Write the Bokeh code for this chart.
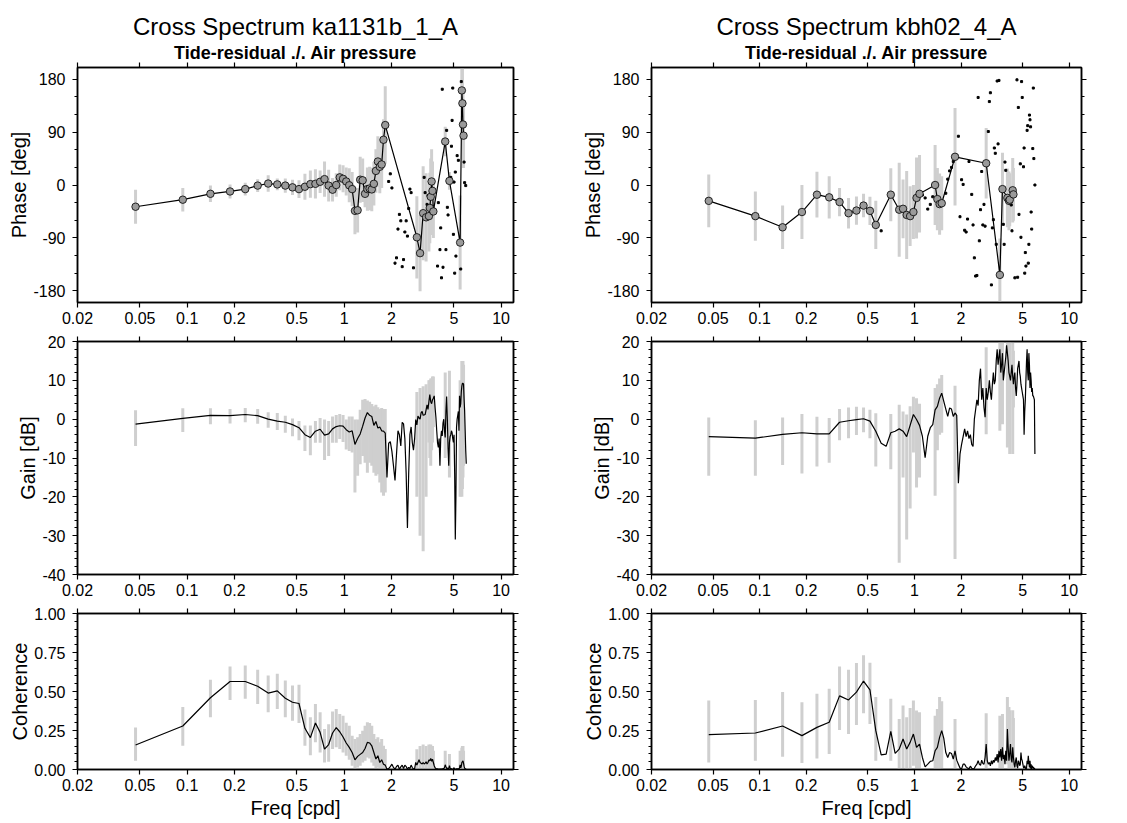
from bokeh.plotting import figure
from bokeh.layouts import column, row
from bokeh.models import (Range1d, FixedTicker, LogAxis, LinearAxis,
                          CustomJSTickFormatter, Title)
from bokeh.embed import file_html
from bokeh.resources import INLINE

FONT = "Liberation Sans"

# ---------------- data -----------------
FREQ_STEP = 0.046875          # cpd, spacing of the spectral estimates
BINS = list(range(1, 129))    # spectral bin index 1..128 (0.047 .. 6 cpd)

X_TICKS = [0.02, 0.05, 0.1, 0.2, 0.5, 1, 2, 5, 10]
PHASE_TICKS = [-180, -90, 0, 90, 180]
GAIN_TICKS = [-40, -30, -20, -10, 0, 10, 20]
COH_TICKS = [0.0, 0.25, 0.5, 0.75, 1.0]

TITLES = ["Cross Spectrum ka1131b_1_A", "Cross Spectrum kbh02_4_A"]
SUBTITLE = "Tide-residual ./. Air pressure"

# ---- station 1 : ka1131b_1_A ----
L_SIG = list(range(1, 40)) + [62, 65, 68, 71, 74, 75, 76, 77, 78, 79, 94, 100, 117, 120, 121, 122, 123]
L_PHASE = [-37, -25, -15, -11, -7, -1, 2.5, 1, -1, -4, -7, -3, 1.5, 2, 5.5, 10, -1, -8, 0, 13,
           10.5, 6, -0.5, -7, -44, -43, 9, 8, -15, -7, -6, -7.5, 2, 24, 40, 31, 35, 77, 102,
           -89, -116, -48, -55, -53, -39, -20, 6, -10, -45, 74, 7, -98, 161, 139, 103, 84]
L_PHASE_ERR = [29, 20, 14, 12, 11, 11, 14, 10, 12, 13, 15, 22, 23, 25, 19, 30, 27, 20, 20, 22,
               23, 24, 29, 29, 40, 38, 39, 37, 23, 37, 37, 37, 37, 37, 43, 45, 40, 35, 66,
               70, 65, 80, 75, 60, 60, 65, 55, 50, 45, 25, 15, 80, 60, 60, 60, 55]
L_DOT_BINS = [41, 42, 43, 45, 46, 47, 48, 49, 50, 51, 52, 53, 54, 55, 56, 57, 59, 69, 70, 72, 73,
              84, 85, 87, 88, 89, 90, 91, 95, 96, 97, 98, 102, 103, 104, 105, 106, 107, 108, 109,
              110, 112, 114, 118, 119, 124, 125, 127]
L_DOT_PHASE = [6, 19, -5, -133, -124, -75, -50, -61, -139, -127, -80, -61, -87, -40, -7, -13, -141,
               13, -13, -33, -18, -138, -30, -110, -73, -158, 163, -140, -110, 93, -38, -51, 13, 66,
               110, 165, -84, 5, -150, 22, -121, 50, 42, -143, 176, 39, 4, -1]
L_GAIN = [-1.3, 0.2, 1.0, 0.9, 1.2, 0.9, 0.0, -0.5, -0.8, -1.4,
          -2.2, -4.0, -4.7, -3.1, -2.6, -4.1, -3.8, -2.5, -1.9, -1.7,
          -1.8, -2.7, -3.3, -3.0, -6.5, -5.0, -3.8, -1.8, 0.3, 1.7,
          1.0, 0.7, -1.6, -0.6, -2.3, -2.0, -3.0, -3.1, -3.6, -15.0,
          -6.2, -5.8, -8.3, -12.0, -15.8, -9.0, -3.0, -4.0, -6.9, -0.8,
          -1.2, -5.0, -14.0, -28.0, -14.0, -4.0, -2.0, -6.0, -8.0, -5.0,
          -0.1, -1.5, 0.8, 0.3, 0.0, 1.6, 2.0, 1.0, 1.1, 1.2,
          2.4, 3.7, 2.5, 4.5, 6.3, 4.5, 4.0, 5.0, 5.4, 6.0,
          3.0, 0.5, -3.0, -6.1, -7.3, -5.0, -12.0, -5.0, -3.0, -4.3,
          -1.0, 0.0, -3.0, -4.7, 2.0, 5.8, 0.0, -7.6, -12.0, -6.0,
          -4.5, -4.0, -3.0, -3.5, -5.0, -6.0, -4.0, -14.0, -31.0, -20.0,
          -2.0, 0.0, 1.0, 2.0, -3.0, 6.0, 3.0, 4.0, 7.0, 8.5,
          9.2, 9.2, 9.0, 5.0, 2.0, -3.0, -8.0, -11.5]
L_GAIN_HI = [2.3, 2.8, 2.8, 2.6, 2.9, 2.6, 1.8, 1.6, 0.9, 0.2, -0.5, -1.6, -1.6, -0.5, 0.3, -0.1,
             -0.5, 0.7, 1.1, 1.3, 1.1, -0.1, 0.7, 0.7, -0.1, -0.1, 2.4, 5.0, 5.2, 4.8, 4.5, 3.9,
             3.3, 3.7, 3.1, 2.6, 2.9, 2.6, 2.6,
             7, 8, 8.5, 9, 10, 10, 10.5, 10.5, 11, 11, 12, 12.5, 10, 15, 15, 15, 14]
L_GAIN_LO = [-6.9, -3.3, -1.3, -1.1, -0.8, -1.2, -2.2, -2.8, -3.5, -4.4, -5.4, -8.2, -9.3, -6.1,
             -6.1, -10.5, -9.5, -6.1, -6.1, -5.1, -5.9, -7.8, -8.2, -8.6, -18.9, -14.6, -11.6,
             -9.5, -11.2, -13.8, -11.2, -12.0, -13.8, -14.6, -14.2, -16.3, -18.9, -19.7, -18.9,
             -20, -30, -34, -20, -6, -10, -12, -8, -6, -2, -10, -15, -20, -20, -18, -15, -12]
L_COH = [0.157, 0.279, 0.46, 0.564, 0.564, 0.534, 0.49, 0.504, 0.457, 0.431,
         0.423, 0.264, 0.204, 0.298, 0.238, 0.131, 0.16, 0.234, 0.268, 0.242,
         0.208, 0.17, 0.142, 0.109, 0.062, 0.084, 0.097, 0.109, 0.135, 0.174,
         0.17, 0.152, 0.109, 0.067, 0.088, 0.045, 0.062, 0.034, 0.028, 0.002,
         0.006, 0.019, 0.034, 0.013, 0.002, 0.019, 0.028, 0.002, 0.017, 0.028,
         0.006, 0.028, 0.019, 0.002, 0.013, 0.006, 0.028, 0.013, 0.002, 0.006,
         0.045, 0.028, 0.045, 0.062, 0.045, 0.04, 0.036, 0.045, 0.036, 0.04,
         0.049, 0.036, 0.045, 0.062, 0.055, 0.071, 0.053, 0.066, 0.045, 0.024,
         0.011, 0.006, 0.002, 0.004, 0.002, 0.001, 0.003, 0.002, 0.001, 0.004,
         0.002, 0.006, 0.012, 0.03, 0.018, 0.008, 0.003, 0.01, 0.002, 0.025,
         0.01, 0.003, 0.006, 0.002, 0.001, 0.004, 0.012, 0.003, 0.001, 0.002,
         0.004, 0.002, 0.006, 0.003, 0.001, 0.012, 0.03, 0.01, 0.02, 0.045,
         0.05, 0.055, 0.04, 0.02, 0.01, 0.004, 0.002, 0.001]
L_COH_HI = [0.27, 0.40, 0.575, 0.661, 0.667, 0.64, 0.603, 0.614, 0.571, 0.539, 0.543, 0.384,
            0.335, 0.42, 0.367, 0.26, 0.29, 0.371, 0.388, 0.356, 0.345, 0.30, 0.281, 0.217,
            0.195, 0.206, 0.227, 0.249, 0.281, 0.303, 0.298, 0.281, 0.227, 0.195, 0.206, 0.174,
            0.195, 0.152, 0.131,
            0.13, 0.15, 0.16, 0.15, 0.16, 0.15, 0.16, 0.14, 0.15, 0.12, 0.12, 0.10, 0.12, 0.14,
            0.15, 0.15, 0.12]
L_COH_LO = [0.056, 0.152, 0.335, 0.446, 0.453, 0.42, 0.367, 0.388, 0.335, 0.313, 0.298, 0.152,
            0.092, 0.174, 0.109, 0.045, 0.05, 0.131, 0.142, 0.131, 0.109, 0.088, 0.062, 0.024,
            0.0, 0.013, 0.024, 0.045, 0.056, 0.077, 0.071, 0.045, 0.024, 0.006, 0.013, 0.0,
            0.0, 0.0, 0.0,
            0, 0, 0, 0, 0, 0, 0, 0, 0, 0, 0, 0, 0, 0, 0, 0, 0]

# ---- station 2 : kbh02_4_A ----
R_SIG = [1, 2, 3, 4, 5, 6, 7, 8, 9, 10, 11, 12, 15, 17, 18, 19, 20, 21, 22, 23, 29, 30, 31, 32,
         39, 62, 76, 79, 85, 87, 88, 92, 93]
R_PHASE = [-27, -53, -72, -46, -16.5, -21, -29, -48, -43.5, -35, -44, -68, -16.5, -42, -40.5,
           -51, -53, -46, -22, -15, 0, -24, -32.5, -31, 48, 37, -153, -7, -22, -27, -25, -9, -16]
R_PHASE_ERR = [45, 42, 37, 46, 39, 36, 24, 26, 24, 20, 24, 41, 45, 80, 50, 75, 51, 46, 69, 66,
               68, 53, 52, 46, 83, 60, 62, 62, 50, 50, 45, 55, 45]
R_DOT_BINS = [13, 24, 25, 26, 27, 28, 34, 35, 36, 37, 38, 41, 42, 43, 44, 45, 46, 47, 48, 50,
              51, 52, 53, 54, 55, 56, 57, 58, 59, 60, 61, 64, 65, 66, 67, 68, 69, 70, 71, 72,
              73, 74, 75, 80, 81, 82, 83, 90, 91, 95, 98, 99, 100, 101, 103, 104, 105, 106,
              108, 109, 110, 111, 112, 114, 115, 116, 117, 118, 119, 120, 121, 122, 124, 125,
              126, 128]
R_DOT_PHASE = [-78, -17, -22, -41, -33, -20, -14, 10, 24, 30, 40, 83, -54, 9, 1, -77, -80, -58,
               40, -16, -68, -124, -155, -154, 149, -95, -42, 23, -68, -33, -70, 91, 142, 157,
               -170, -73, -59, 63, 54, -101, 177, 70, 178, -67, -101, 39, 25, -34, -78, -158,
               179, -157, 132, -50, 36, -89, 176, 149, 31, 63, -150, -115, -138, 93, 101, -133,
               -101, 119, 111, 99, -46, -75, 62, 165, 45, 0]
R_GAIN = [-4.5, -4.9, -3.9, -3.5, -3.8, -3.8, -0.8, -0.4, -0.1, 0.1,
          -0.5, -3.1, -6.2, -7.0, -3.5, -3.1, -2.5, -3.1, -4.5, -1.6,
          1.2, -0.1, -1.6, -4.4, -9.9, -4.4, -2.2, -1.4, 2.4, 3.3,
          5.4, 6.7, 4.6, 2.6, 0.7, 2.9, 2.6, 0.7, 1.6, 1.0,
          -16.5, -9.0, -6.5, -4.5, -2.5, -4.5, -3.0, -5.0, -4.0, -6.5,
          -7.0, 0.0, 2.5, 5.0, 3.5, 10.0, 13.0, 5.0, 8.0, 3.0,
          0.5, 8.0, 5.0, 7.0, 10.0, 7.0, 5.0, 9.0, 12.0, 9.0,
          10.0, 15.0, 18.0, 14.0, 16.0, 18.0, 12.0, 14.0, 17.0, 10.0,
          12.0, 14.0, 16.0, 19.0, 17.0, 15.0, 12.0, 11.0, 10.0, 12.0,
          14.0, 11.0, 9.0, 11.0, 12.0, 8.0, 6.0, 9.0, 13.0, 14.0,
          15.0, 12.0, 11.0, 9.0, 8.0, 7.0, 6.0, 5.0, -4.0, 2.0,
          5.0, 10.0, 15.0, 18.0, 12.0, 10.0, 17.0, 14.0, 8.0, 12.0,
          10.0, 7.0, 8.0, 6.0, 6.0, 5.5, 5.0, -9.0]
R_GAIN_HI = [0.4, -0.3, 0.4, 1.3, 0.6, 0.3, 2.6, 3.0, 3.2, 3.0, 2.4, 1.5, 1.3, 3.7, 2.0, 1.2,
             3.3, 5.8, 5.4, 4.0, 8.0, 9.0, 10.5, 11.4, 8.6, 18.5, 20.5, 20.5, 20.5, 20.5, 20.5,
             19.7, 17.6]
R_GAIN_LO = [-14.6, -14.6, -11.8, -14.0, -12.2, -11.2, -5.4, -4.9, -4.1, -3.4, -4.9, -12.2,
             -12.9, -37.0, -15.0, -31.0, -23.0, -8.6, -17.6, -15.0, -19.7, -8.0, -4.0, -3.5,
             -36.0, -3.9, -3.0, -1.3, -7.3, -6.4, -9.0, -9.0, 3.0]
R_COH = [0.223, 0.234, 0.279, 0.217, 0.27, 0.303, 0.472, 0.446, 0.496, 0.567,
         0.511, 0.249, 0.094, 0.099, 0.245, 0.103, 0.131, 0.195, 0.131, 0.174,
         0.227, 0.142, 0.163, 0.077, 0.017, 0.034, 0.052, 0.056, 0.12, 0.142,
         0.206, 0.249, 0.2, 0.109, 0.077, 0.109, 0.103, 0.067, 0.12, 0.06,
         0.034, 0.009, 0.004, 0.034, 0.034, 0.017, 0.009, 0.004, 0.021, 0.009,
         0.0, 0.009, 0.024, 0.034, 0.056, 0.034, 0.026, 0.06, 0.039, 0.034,
         0.077, 0.163, 0.056, 0.034, 0.045, 0.024, 0.056, 0.034, 0.06, 0.045,
         0.077, 0.056, 0.099, 0.045, 0.12, 0.077, 0.131, 0.056, 0.142, 0.067,
         0.094, 0.034, 0.12, 0.056, 0.26, 0.142, 0.056, 0.099, 0.163, 0.067,
         0.045, 0.142, 0.077, 0.034, 0.013, 0.056, 0.077, 0.024, 0.009, 0.056,
         0.045, 0.024, 0.034, 0.109, 0.067, 0.056, 0.034, 0.013, 0.009, 0.024,
         0.013, 0.002, 0.009, 0.056, 0.034, 0.088, 0.045, 0.013, 0.056, 0.006,
         0.034, 0.004, 0.024, 0.009, 0.017, 0.004, 0.009, 0.004]
R_COH_HI = [0.442, 0.446, 0.496, 0.431, 0.485, 0.517, 0.661, 0.64, 0.682, 0.732, 0.685, 0.464,
            0.453, 0.324, 0.41, 0.335, 0.395, 0.442, 0.378, 0.367, 0.345, 0.388, 0.464, 0.438,
            0.324, 0.36, 0.345, 0.356, 0.464, 0.40, 0.38, 0.38, 0.33]
R_COH_LO = [0.045, 0.056, 0.082, 0.041, 0.071, 0.099, 0.253, 0.227, 0.285, 0.361, 0.292, 0.056,
            0.056, 0.0, 0.009, 0.0, 0.0, 0.024, 0.009, 0.009, 0.0, 0.0, 0.0, 0.009, 0.0, 0.0,
            0.0, 0.0, 0.034, 0.0, 0.0, 0.005, 0.0]

STATIONS = [
    dict(sig=L_SIG, phase=L_PHASE, perr=L_PHASE_ERR, dbins=L_DOT_BINS, dphase=L_DOT_PHASE,
         gain=L_GAIN, ghi=L_GAIN_HI, glo=L_GAIN_LO, coh=L_COH, chi=L_COH_HI, clo=L_COH_LO),
    dict(sig=R_SIG, phase=R_PHASE, perr=R_PHASE_ERR, dbins=R_DOT_BINS, dphase=R_DOT_PHASE,
         gain=R_GAIN, ghi=R_GAIN_HI, glo=R_GAIN_LO, coh=R_COH, chi=R_COH_HI, clo=R_COH_LO),
]

# ---------------- styling helpers -----------------
BAR_COLOR = "#cfcfcf"
ROW_H = [330, 270, 223]
ROW_BORDER = [(67, 28), (11, 26), (13, 54)]       # (top, bottom)
COL_W = [560, 567]
COL_BORDER = [(77, 47), (91, 46)]                 # (left, right)


def fmt_plain():
    return CustomJSTickFormatter(code="return String(tick);")


def style_axis(ax, ticker, labels=True, fmt=None):
    ax.ticker = ticker
    ax.major_tick_out = 5
    ax.major_tick_in = 0
    ax.minor_tick_out = 3
    ax.minor_tick_in = 0
    ax.axis_line_width = 1.5
    ax.axis_line_color = "black"
    ax.major_tick_line_width = 1.2
    ax.minor_tick_line_width = 1
    ax.major_label_text_font = FONT
    ax.axis_label_text_font = FONT
    ax.axis_label_text_font_size = "20px"
    ax.axis_label_text_font_style = "normal"
    ax.axis_label_text_color = "black"
    if labels:
        ax.major_label_text_font_size = "16px"
        ax.major_label_text_color = "black"
    else:
        # mirror axis: ticks only, labels not drawn
        ax.major_label_text_font_size = "0px"
        ax.major_label_text_color = None
        ax.major_label_standoff = 0
    if fmt is not None:
        ax.formatter = fmt


def make_fig(ci, ri, yrange, yticks, yminor, ylabel, yfmt):
    p = figure(width=COL_W[ci], height=ROW_H[ri], x_axis_type="log",
               x_range=Range1d(0.02, 12), y_range=Range1d(*yrange),
               output_backend="svg", toolbar_location=None, title=None,
               min_border_left=COL_BORDER[ci][0], min_border_right=COL_BORDER[ci][1],
               min_border_top=ROW_BORDER[ri][0], min_border_bottom=ROW_BORDER[ri][1])
    p.title_location = None
    p.grid.visible = False
    p.outline_line_color = "black"
    p.outline_line_width = 1.5
    p.background_fill_color = "white"
    p.border_fill_color = "white"

    xt = FixedTicker(ticks=X_TICKS, minor_ticks=[])
    yt = FixedTicker(ticks=yticks, minor_ticks=yminor)

    style_axis(p.xaxis[0], xt, True, fmt_plain())
    p.xaxis[0].major_label_standoff = 4
    if ri == 2:
        p.xaxis[0].axis_label = "Freq [cpd]"
        p.xaxis[0].axis_label_standoff = 3
    style_axis(p.yaxis[0], yt, True, yfmt)
    p.yaxis[0].major_label_standoff = 7
    p.yaxis[0].axis_label = ylabel
    p.yaxis[0].axis_label_standoff = 0

    top = LogAxis()
    style_axis(top, FixedTicker(ticks=X_TICKS, minor_ticks=[]), False, fmt_plain())
    p.add_layout(top, "above")
    right = LinearAxis()
    style_axis(right, FixedTicker(ticks=yticks, minor_ticks=yminor), False, yfmt)
    p.add_layout(right, "right")
    return p


phase_minor = list(range(-180, 181, 30))
gain_minor = list(range(-40, 21, 2))
coh_minor = [i * 0.05 for i in range(0, 21)]

figs = []
for ci, st in enumerate(STATIONS):
    freq = [FREQ_STEP * k for k in BINS]
    fsig = [FREQ_STEP * k for k in st["sig"]]
    fdot = [FREQ_STEP * k for k in st["dbins"]]

    # ---- phase ----
    pp = make_fig(ci, 0, (-200, 200), PHASE_TICKS, phase_minor, "Phase [deg]", fmt_plain())
    pp.add_layout(Title(text=SUBTITLE, align="center", text_font=FONT, text_font_size="18px",
                        text_font_style="bold", text_color="black", standoff=0), "above")
    pp.add_layout(Title(text=TITLES[ci], align="center", text_font=FONT, text_font_size="24px",
                        text_font_style="normal", text_color="black", standoff=1), "above")
    plo = [v - e for v, e in zip(st["phase"], st["perr"])]
    phi = [v + e for v, e in zip(st["phase"], st["perr"])]
    pp.segment(x0=fsig, y0=plo, x1=fsig, y1=phi, line_color=BAR_COLOR, line_width=3)
    pp.line(fsig, st["phase"], line_color="black", line_width=1.2)
    pp.scatter(fdot, st["dphase"], marker="square", size=2, color="black")
    pp.scatter(fsig, st["phase"], marker="circle", size=7.5, fill_color="#9a9a9a",
               line_color="black", line_width=0.8)

    # ---- gain ----
    pg = make_fig(ci, 1, (-40, 20), GAIN_TICKS, gain_minor, "Gain [dB]", fmt_plain())
    pg.segment(x0=fsig, y0=st["glo"], x1=fsig, y1=st["ghi"], line_color=BAR_COLOR, line_width=3)
    pg.line(freq, st["gain"], line_color="black", line_width=1.2)

    # ---- coherence ----
    pc = make_fig(ci, 2, (0, 1), COH_TICKS, coh_minor, "Coherence",
                  CustomJSTickFormatter(code="return tick.toFixed(2);"))
    pc.segment(x0=fsig, y0=st["clo"], x1=fsig, y1=st["chi"], line_color=BAR_COLOR, line_width=3)
    pc.line(freq, st["coh"], line_color="black", line_width=1.2)

    figs.append((pp, pg, pc))

layout = column(row(figs[0][0], figs[1][0]),
                row(figs[0][1], figs[1][1]),
                row(figs[0][2], figs[1][2]))

open("out.html", "w").write(file_html(layout, INLINE))
